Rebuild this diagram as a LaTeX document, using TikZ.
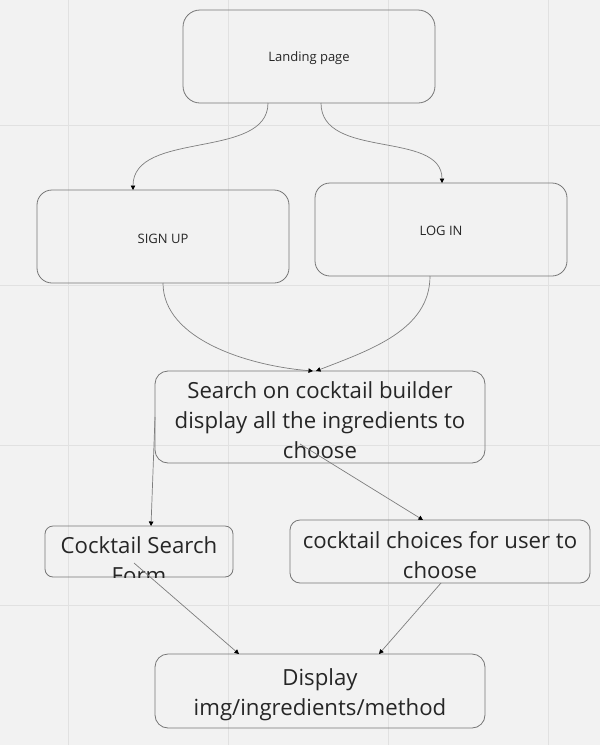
\documentclass[tikz,border=0pt]{standalone}
\usepackage{fontspec}
\setmainfont{Open Sans}
\usetikzlibrary{arrows.meta}
\definecolor{bg}{HTML}{F2F2F2}
\definecolor{gridc}{HTML}{E1E1E1}
\definecolor{boxc}{HTML}{767676}
\definecolor{linec}{HTML}{7E7E7E}
\tikzset{
  box/.style={draw=boxc, line width=0.8pt, rectangle, inner sep=0pt},
  conn/.style={draw=linec, line width=0.7pt, -{Triangle[length=4.5pt,width=4.5pt,color=black]}},
  small/.style={font=\fontsize{13}{15}\selectfont, text=black!85},
  big/.style={font=\fontsize{22.2}{30}\selectfont, text=black!85, align=center, inner sep=0pt},
}
\begin{document}
\begin{tikzpicture}[x=1pt,y=-1pt]
\fill[bg] (0,0) rectangle (600,745);
\useasboundingbox (0,0) rectangle (600,745);
\foreach \gx in {68,228,388,548} \draw[gridc, line width=0.9pt] (\gx,0) -- (\gx,745);
\foreach \gy in {125,285,445,605} \draw[gridc, line width=0.9pt] (0,\gy) -- (600,\gy);

% boxes
\node[box, rounded corners=17pt, minimum width=252pt, minimum height=93pt] (land) at (309,56.5) {};
\node[small] (landt) at (309,58.5) {Landing page};
\node[box, rounded corners=15pt, minimum width=252pt, minimum height=93pt] (sign) at (163,236.5) {};
\node[small] (signt) at (163,238.5) {SIGN UP};
\node[box, rounded corners=15pt, minimum width=252pt, minimum height=93pt] (log) at (441,229.5) {};
\node[small] (logt) at (441,231) {LOG IN};
\node[box, rounded corners=13pt, minimum width=330pt, minimum height=92pt] (search) at (320,417) {};
\node[big] (searcht) at (320,420) {Search on cocktail builder\\display all the ingredients to\\choose};
\node[box, rounded corners=8pt, minimum width=188pt, minimum height=51pt] (form) at (139,551.5) {};
\begin{scope}
\clip (45,526) rectangle (233,577);
\node[big] (formt) at (139,560) {Cocktail Search\\Form};
\end{scope}
\node[box, rounded corners=10pt, minimum width=300pt, minimum height=63pt] (choice) at (440,551.5) {};
\node[big] (choicet) at (440,555) {cocktail choices for user to\\choose};
\node[box, rounded corners=13pt, minimum width=330pt, minimum height=74pt] (disp) at (320,691) {};
\node[big] (dispt) at (320,694.5) {Display\\img/ingredients/method};

% anchor points
\coordinate (l1) at (268,103);
\coordinate (l2) at (321,103);
\coordinate (s1) at (133,190);
\coordinate (g1) at (442,183);
\coordinate (so) at (163,283);
\coordinate (go) at (430,276);
\coordinate (si1) at (313,371);
\coordinate (si2) at (316,371);
\coordinate (sw) at (155,417);
\coordinate (sx) at (300,444);
\coordinate (fi) at (151,526);
\coordinate (ci) at (423,520);
\coordinate (fo) at (134,563);
\coordinate (co) at (441,583);
\coordinate (d1) at (239,654);
\coordinate (d2) at (379,654);

% connectors
\draw[conn] (l1) .. controls (268,160) and (133,130) .. (s1);
\draw[conn] (l2) .. controls (321,160) and (442,130) .. (g1);
\draw[conn] (so) .. controls (163,340) and (250,366) .. (si1);
\draw[conn] (go) .. controls (430,330) and (370,350) .. (si2);
\draw[conn] (sw) -- (fi);
\draw[conn] (sx) -- (ci);
\draw[conn] (fo) -- (d1);
\draw[conn] (co) -- (d2);
\end{tikzpicture}
\end{document}
